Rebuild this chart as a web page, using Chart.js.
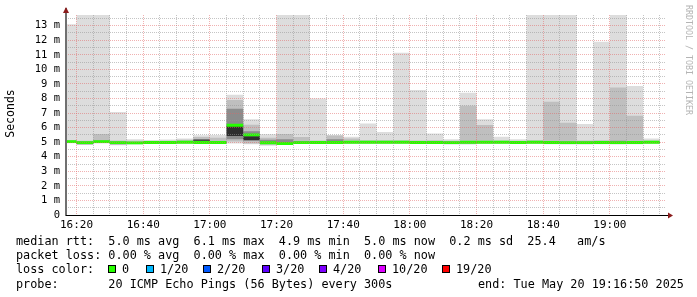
<!DOCTYPE html>
<html>
<head>
<meta charset="utf-8">
<script src="https://cdn.jsdelivr.net/npm/chart.js@4.4.1/dist/chart.umd.min.js"></script>
<style>
  html, body { margin: 0; padding: 0; background: #fff; }
  #wrap { position: relative; width: 697px; height: 297px; overflow: hidden; background: #fff; }
  #chart { position: absolute; left: 0; top: 0; }
  .txt { position: absolute; font: 11.8px 'DejaVu Sans Mono', monospace; color: #000; white-space: pre; line-height: 14px; }
  .box { position: absolute; width: 6px; height: 6px; border: 1px solid #000; }
</style>
</head>
<body>
<div id="wrap">
  <canvas id="chart" width="697" height="297"></canvas>
  <div id="legend"></div>
</div>
<script>
// time frame of the graph (hh:mm[:ss])
const graphStart = '16:16:50';
const graphEnd = '19:16:50';
const firstStepEnd = '16:20';
const stepMinutes = 5;

const xLabelTicks = ['16:20', '16:40', '17:00', '17:20', '17:40', '18:00', '18:20', '18:40', '19:00'];
const yLabelTicks = [0, 1, 2, 3, 4, 5, 6, 7, 8, 9, 10, 11, 12, 13];
const yMax = 13.73;

// median rtt per 5 min step (ms)
const medianRtt = [5.04, 4.97, 5.04, 4.97, 4.95, 4.98, 4.98, 4.99, 4.98, 4.98, 6.16, 5.5,
  4.96, 4.91, 4.97, 4.98, 4.98, 4.99, 4.99, 4.99, 4.99, 4.98, 4.98, 4.97,
  4.99, 4.99, 4.99, 4.98, 4.99, 4.98, 4.97, 4.97, 4.98, 4.97, 4.98, 4.99];

// smoke bands (ms): outer = min..max, then tighter ping ranges
const outerHi = [13.1, 13.8, 13.8, 7.07, 5.2, 5.15, 5.18, 5.26, 5.47, 5.5, 8.25, 6.57,
  5.54, 13.8, 13.8, 8.0, 5.49, 5.37, 6.29, 5.7, 11.14, 8.58, 5.6, 5.2,
  8.4, 6.57, 5.37, 5.2, 13.8, 13.8, 13.8, 6.25, 11.9, 13.8, 8.85, 5.26];
const outerLo = [4.92, 4.86, 4.9, 4.78, 4.84, 4.9, 4.9, 4.9, 4.88, 4.88, 4.9, 4.86,
  4.76, 4.82, 4.88, 4.88, 4.88, 4.9, 4.9, 4.9, 4.9, 4.88, 4.88, 4.84,
  4.84, 4.88, 4.9, 4.88, 4.88, 4.86, 4.84, 4.84, 4.86, 4.84, 4.86, 4.9];
const midHi = [5.15, 5.1, 5.56, 5.12, 5.1, 5.08, 5.1, 5.16, 5.35, 5.3, 7.9, 6.2,
  5.3, 5.56, 5.36, 5.12, 5.45, 5.25, 5.14, 5.14, 5.14, 5.12, 5.14, 5.1,
  7.5, 6.18, 5.12, 5.1, 5.14, 7.78, 6.34, 5.12, 5.14, 8.76, 6.82, 5.12];
const midLo = [4.96, 4.9, 4.95, 4.8, 4.88, 4.93, 4.93, 4.93, 4.92, 4.92, 5.05, 4.9,
  4.82, 4.85, 4.92, 4.93, 4.92, 4.93, 4.93, 4.93, 4.93, 4.92, 4.92, 4.88,
  4.88, 4.92, 4.93, 4.92, 4.92, 4.9, 4.88, 4.88, 4.9, 4.88, 4.9, 4.93];
const innerHi = [5.1, 5.04, 5.12, 5.04, 5.02, 5.04, 5.04, 5.06, 5.12, 5.08, 7.3, 5.75,
  5.16, 5.2, 5.08, 5.05, 5.2, 5.08, 5.05, 5.05, 5.05, 5.05, 5.05, 5.04,
  5.08, 5.06, 5.05, 5.04, 5.05, 5.06, 5.05, 5.04, 5.05, 5.1, 5.08, 5.05];
const innerLo = [4.98, 4.92, 4.98, 4.9, 4.9, 4.94, 4.94, 4.95, 4.94, 4.94, 5.2, 5.08,
  4.9, 4.87, 4.93, 4.94, 4.94, 4.95, 4.95, 4.95, 4.95, 4.94, 4.94, 4.92,
  4.93, 4.95, 4.95, 4.94, 4.95, 4.93, 4.92, 4.92, 4.94, 4.92, 4.94, 4.95];
const coreHi = [5.06, 4.95, 5.06, 4.99, 4.97, 5.0, 5.0, 5.01, 5.18, 5.0, 6.12, 5.4,
  4.98, 4.93, 4.99, 5.0, 5.0, 5.01, 5.01, 5.01, 5.01, 5.0, 5.0, 4.99,
  5.01, 5.01, 5.01, 5.0, 5.01, 5.0, 4.99, 4.99, 5.0, 4.99, 5.0, 5.01];
const coreLo = [5.02, 4.85, 5.02, 4.95, 4.93, 4.96, 4.96, 4.97, 5.1, 4.96, 5.42, 5.15,
  4.94, 4.89, 4.95, 4.96, 4.96, 4.97, 4.97, 4.97, 4.97, 4.96, 4.96, 4.95,
  4.97, 4.97, 4.97, 4.96, 4.97, 4.96, 4.95, 4.95, 4.96, 4.95, 4.96, 4.97];

// legend figures
const rttStats = ['5.0', '6.1', '4.9', '5.0', '0.2'];  // avg max min now sd
const amPerSec = '25.4';
const lossStats = ['0.00', '0.00', '0.00', '0.00'];   // avg max min now
const lossLabels = ['0', '1/20', '2/20', '3/20', '4/20', '10/20', '19/20'];
const lossColors = ['#26ff00', '#00b8ff', '#0059ff', '#5e00ff', '#7e00ff', '#dd00ff', '#ff0000'];
const probeText = '20 ICMP Echo Pings (56 Bytes) every 300s';
const endText = 'end: Tue May 20 19:16:50 2025';

const MEDIAN_HALF = 0.1; // thickness of the median stripe in ms

function toMin(s) {
  const p = s.split(':').map(Number);
  return p[0] * 60 + p[1] + (p[2] || 0) / 60;
}
function fmt(v) {
  const h = Math.floor(v / 60), m = Math.round(v - h * 60);
  return h + ':' + String(m).padStart(2, '0');
}

const xMin = toMin(graphStart);
const xMax = toMin(graphEnd);
const stepEnds = medianRtt.map((_, i) => toMin(firstStepEnd) + i * stepMinutes);
const majorX = new Set(xLabelTicks.map(toMin));

// stepped series: value i holds for the step ending at stepEnds[i]
function steps(values) {
  return [{ x: xMin, y: values[0] }].concat(values.map((v, i) => ({ x: stepEnds[i], y: v })));
}

function band(hi, lo, color) {
  return [
    { data: steps(hi), fill: '+1', backgroundColor: color },
    { data: steps(lo), fill: false }
  ];
}

const datasets = [].concat(
  band(medianRtt.map(v => v + MEDIAN_HALF), medianRtt.map(v => v - MEDIAN_HALF), '#26ff00'),
  band(coreHi, coreLo, '#2e2e2e'),
  band(innerHi, innerLo, '#8c8c8c'),
  band(midHi, midLo, '#bfbfbf'),
  band(outerHi, outerLo, '#dddddd')
).map(d => Object.assign(d, {
  stepped: 'after',
  borderWidth: 0,
  borderColor: 'transparent',
  pointRadius: 0
}));

const monoFont = "'DejaVu Sans Mono', monospace";

const frame = {
  id: 'frame',
  afterDraw(chart) {
    const { ctx, chartArea: a } = chart;
    ctx.save();
    // axes
    ctx.fillStyle = '#707070';
    ctx.fillRect(a.left - 1, a.top - 7, 2, a.bottom - a.top + 8);
    ctx.fillStyle = '#000';
    ctx.fillRect(a.left, a.bottom, a.right - a.left + 3, 1);
    // arrows
    ctx.fillStyle = '#8b1c1c';
    ctx.beginPath();
    ctx.moveTo(a.left - 3, a.top - 2);
    ctx.lineTo(a.left + 3, a.top - 2);
    ctx.lineTo(a.left, a.top - 8);
    ctx.closePath();
    ctx.fill();
    ctx.beginPath();
    ctx.moveTo(a.right + 2, a.bottom - 2.5);
    ctx.lineTo(a.right + 2, a.bottom + 3.5);
    ctx.lineTo(a.right + 7, a.bottom + 0.5);
    ctx.closePath();
    ctx.fill();
    // axis title
    ctx.fillStyle = '#000';
    ctx.font = '11.5px ' + monoFont;
    ctx.textAlign = 'center';
    ctx.textBaseline = 'middle';
    ctx.translate(11, 113.5);
    ctx.rotate(-Math.PI / 2);
    ctx.fillText('Seconds', 0, 0);
    ctx.restore();
    // watermark
    ctx.save();
    ctx.fillStyle = '#b4b4b4';
    ctx.font = '8.3px ' + monoFont;
    ctx.textAlign = 'left';
    ctx.textBaseline = 'middle';
    ctx.translate(688, 5);
    ctx.rotate(Math.PI / 2);
    ctx.fillText('RRDTOOL / TOBI OETIKER', 0, 0);
    ctx.restore();
  }
};

const gridGray = 'rgba(150,150,150,0.55)';
const gridRed = 'rgba(225,100,100,0.5)';

new Chart(document.getElementById('chart'), {
  type: 'line',
  data: { datasets },
  options: {
    responsive: false,
    animation: false,
    events: [],
    layout: { padding: { left: 0, right: 31, top: 15, bottom: 62 } },
    plugins: { legend: { display: false }, tooltip: { enabled: false } },
    scales: {
      x: {
        type: 'linear',
        min: xMin,
        max: xMax,
        afterBuildTicks: axis => { axis.ticks = stepEnds.map(v => ({ value: v })); },
        afterFit: axis => { axis.height = 20; },
        border: { display: false, dash: [1, 1] },
        grid: {
          z: 1,
          drawTicks: false,
          color: c => (c.tick && majorX.has(c.tick.value) ? gridRed : gridGray)
        },
        ticks: {
          autoSkip: false,
          maxRotation: 0,
          padding: 4,
          color: '#000',
          font: { family: monoFont, size: 11 },
          callback: v => (majorX.has(v) ? fmt(v) : '')
        }
      },
      y: {
        min: 0,
        max: yMax,
        afterBuildTicks: axis => {
          const t = [];
          yLabelTicks.forEach(v => { t.push({ value: v }); t.push({ value: v + 0.5 }); });
          axis.ticks = t.filter(o => o.value <= yMax);
        },
        afterFit: axis => { axis.width = 66; },
        border: { display: false, dash: [1, 1] },
        grid: {
          z: 1,
          drawTicks: false,
          color: c => (c.tick && Number.isInteger(c.tick.value) ? gridRed : gridGray)
        },
        ticks: {
          autoSkip: false,
          padding: 6,
          color: '#000',
          font: { family: monoFont, size: 10.5 },
          callback: v => (yLabelTicks.includes(v) ? (v === 0 ? '0' : v + ' m') : '')
        }
      }
    }
  },
  plugins: [frame]
});

// text legend below the graph
const legend = document.getElementById('legend');
function addText(str, x, yc) {
  const el = document.createElement('div');
  el.className = 'txt';
  el.textContent = str;
  el.style.left = x + 'px';
  el.style.top = (yc - 7) + 'px';
  legend.appendChild(el);
}
addText('median rtt:  ' + rttStats[0] + ' ms avg  ' + rttStats[1] + ' ms max  ' + rttStats[2] +
  ' ms min  ' + rttStats[3] + ' ms now  ' + rttStats[4] + ' ms sd  ' + amPerSec + '   am/s', 16, 240.7);
addText('packet loss: ' + lossStats[0] + ' % avg  ' + lossStats[1] + ' % max  ' + lossStats[2] +
  ' % min  ' + lossStats[3] + ' % now', 16, 255);
addText('loss color:', 16, 269.3);
const boxX = [108, 146, 203, 262, 319, 378, 442];
lossLabels.forEach((lab, i) => {
  const b = document.createElement('div');
  b.className = 'box';
  b.style.left = boxX[i] + 'px';
  b.style.top = '265px';
  b.style.background = lossColors[i];
  legend.appendChild(b);
  addText(lab, boxX[i] + 14, 269.3);
});
addText('probe:       ' + probeText, 16, 283.7);
addText(endText, 478, 283.7);
</script>
</body>
</html>
